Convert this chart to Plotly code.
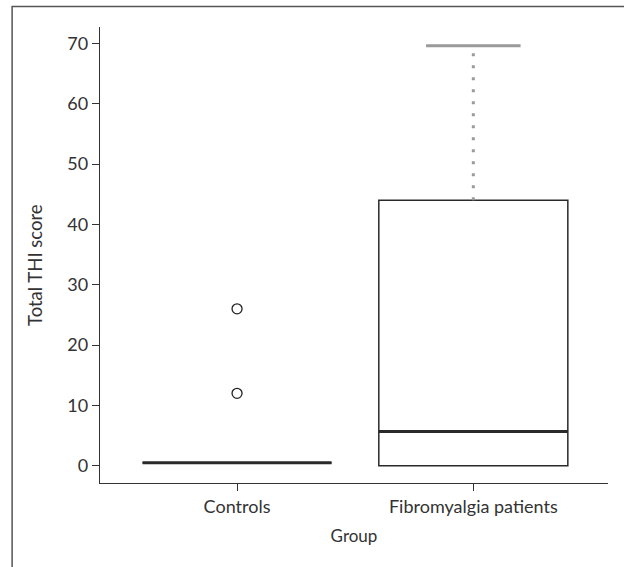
import plotly.graph_objects as go

# Data
groups = ["Controls", "Fibromyalgia patients"]
positions = [0, 1]
q1 = [0.5, 0.0]
median = [0.5, 5.7]
q3 = [0.5, 44.0]
lower_fence = [0.5, 0.0]
upper_fence = [0.5, 69.6]
outliers_x = [0, 0]
outliers_y = [12.0, 26.0]
y_ticks = [0, 10, 20, 30, 40, 50, 60, 70]

BOX_W = 0.8
CAP_W = 0.4
FONT = "Lato, Open Sans, sans-serif"

fig = go.Figure()

for i in range(len(groups)):
    # box body (whiskers drawn separately)
    fig.add_trace(go.Box(
        x=[positions[i]], q1=[q1[i]], median=[median[i]], q3=[q3[i]],
        lowerfence=[q1[i]], upperfence=[q3[i]],
        width=BOX_W, fillcolor="white",
        line=dict(color="#2a2a2a", width=1.5),
        whiskerwidth=0, boxpoints=False, hoverinfo="skip",
    ))
    # upper whisker (dotted grey)
    if upper_fence[i] > q3[i]:
        fig.add_trace(go.Scatter(
            x=[positions[i], positions[i]], y=[q3[i], upper_fence[i]],
            mode="lines", line=dict(color="#9a9a9a", width=3, dash="3px,9px"),
            hoverinfo="skip"))
        fig.add_trace(go.Scatter(
            x=[positions[i] - CAP_W / 2, positions[i] + CAP_W / 2],
            y=[upper_fence[i], upper_fence[i]],
            mode="lines", line=dict(color="#9a9a9a", width=3),
            hoverinfo="skip"))
    # thick median line
    fig.add_trace(go.Scatter(
        x=[positions[i] - BOX_W / 2, positions[i] + BOX_W / 2],
        y=[median[i], median[i]],
        mode="lines", line=dict(color="#2a2a2a", width=3),
        hoverinfo="skip"))

# outliers
fig.add_trace(go.Scatter(
    x=outliers_x, y=outliers_y, mode="markers",
    marker=dict(symbol="circle-open", size=10, color="#222222",
                line=dict(width=1.3, color="#222222")),
    hoverinfo="skip"))

fig.update_layout(
    width=624, height=567,
    margin=dict(l=100, r=16, t=27, b=84),
    paper_bgcolor="white", plot_bgcolor="white",
    showlegend=False,
    font=dict(family=FONT, size=17, color="#333333"),
    xaxis=dict(
        range=[-0.58, 1.57], tickvals=positions, ticktext=groups,
        showline=True, linecolor="#333333", linewidth=1.3,
        ticks="outside", ticklen=7, tickcolor="#333333", tickwidth=1.3,
        showgrid=False, zeroline=False,
        title=dict(text="Group", font=dict(size=17), standoff=14),
        tickfont=dict(size=18),
    ),
    yaxis=dict(
        range=[-2.85, 72.7], tickvals=y_ticks,
        showline=True, linecolor="#333333", linewidth=1.3,
        ticks="outside", ticklen=7, tickcolor="#333333", tickwidth=1.3,
        showgrid=False, zeroline=False,
        tickfont=dict(size=18),
    ),
    annotations=[dict(text="Total THI score", textangle=-90,
                      xref="paper", yref="paper", x=-0.128, y=0.478,
                      xanchor="center", yanchor="middle", showarrow=False,
                      font=dict(size=18.5, color="#333333"))],
    shapes=[dict(type="rect", xref="paper", yref="paper",
                 x0=-0.173, x1=1.3, y0=-0.4, y1=1.045,
                 line=dict(color="#555555", width=1.5), layer="above")],
)

fig.write_html("out.html",
               config={"displayModeBar": False},
               post_script="document.body.style.margin='0';document.body.style.overflow='hidden';")
